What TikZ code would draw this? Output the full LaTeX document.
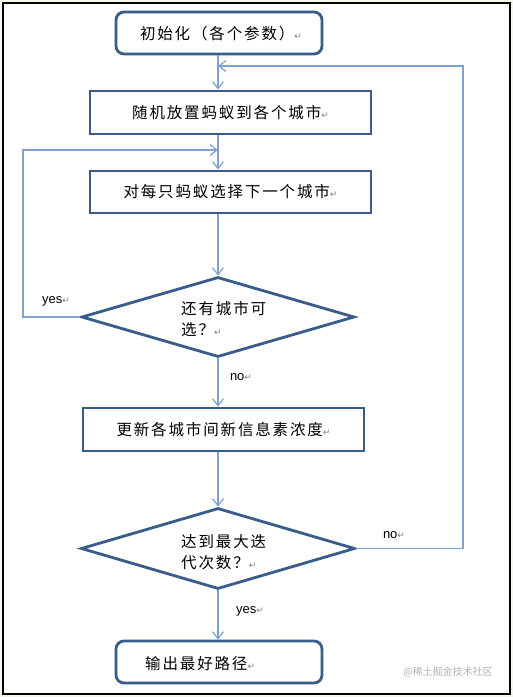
\documentclass[tikz,border=0pt]{standalone}
\usepackage{fontspec}
\setmainfont{Noto Sans CJK SC}
\newfontfamily\cjk[LetterSpace=12]{Noto Sans CJK SC}
\newfontfamily\latn{Liberation Sans}
\newfontfamily\symf{DejaVu Sans}
\usetikzlibrary{arrows.meta,shapes.geometric}
\definecolor{boxblue}{HTML}{385D8A}
\definecolor{linkblue}{HTML}{7EA3D0}
\definecolor{bgc}{HTML}{F6F6EA}
\newcommand{\ret}{{\color{gray}\symf\fontsize{9}{9}\selectfont ↵}}
\begin{document}
\begin{tikzpicture}[x=1pt,y=-1pt,
  stepbox/.style={draw=boxblue,line width=2.8pt,fill=white,inner sep=0pt,
    font=\cjk\fontsize{15.5}{18}\selectfont},
  decis/.style={draw=boxblue,line width=2.8pt,fill=white,diamond,aspect=1,inner sep=0pt},
  conn/.style={draw=linkblue,line width=1.4pt},
  arr/.style={conn,-{Straight Barb[length=7pt,width=11pt,line width=1.2pt]}},
  dtext/.style={anchor=west,align=left,inner sep=0pt,font=\cjk\fontsize{15.5}{21.5}\selectfont},
  lab/.style={font=\latn\fontsize{13}{13}\selectfont,inner sep=0pt}]
\useasboundingbox (0,0) rectangle (513,697);
\fill[bgc] (0,0) rectangle (513,697);
\draw[fill=white,line width=1.2pt] (3,3) rectangle (510,694);
% nodes
\node[stepbox,rounded corners=8pt,minimum width=206pt,minimum height=42pt] (init) at (219,33) {};
\node[font=\cjk\fontsize{15.5}{18}\selectfont,inner sep=0pt] (initt) at (221,34) {初始化（各个参数）\ret};
\node[stepbox,minimum width=281pt,minimum height=43pt] (place) at (230.5,112.5) {随机放置蚂蚁到各个城市\ret};
\node[stepbox,minimum width=281pt,minimum height=42pt] (select) at (230.5,192) {对每只蚂蚁选择下一个城市\ret};
\node[decis,minimum width=273pt,minimum height=80pt] (d1) at (218,317) {};
\node[dtext] (d1t) at (181,319) {还有城市可\\选？\ret};
\node[stepbox,minimum width=281pt,minimum height=43pt] (update) at (223.5,429.5) {更新各城市间新信息素浓度\ret};
\node[decis,minimum width=274pt,minimum height=81pt] (d2) at (218,548.5) {};
\node[dtext] (d2t) at (181,552) {达到最大迭\\代次数？\ret};
\node[stepbox,rounded corners=8pt,minimum width=206pt,minimum height=42pt] (out) at (219,662) {};
\node[font=\cjk\fontsize{15.5}{18}\selectfont,inner sep=0pt,anchor=west] (outt) at (145,664) {输出最好路径\ret};
% helper coordinates
\coordinate (col) at (218,0);
\coordinate (yl) at (23,150);
\coordinate (nr) at (463,66);
% connectors
\draw[arr] (init.south -| col) -- (place.north -| col);
\draw[arr] (place.south -| col) -- (select.north -| col);
\draw[arr] (select.south -| col) -- (d1.north);
\draw[arr] (d1.south) -- (d1.south |- update.north);
\draw[arr] (update.south -| col) -- (d2.north);
\draw[arr] (d2.south) -- (d2.south |- out.north);
\draw[arr] (d1.west) -| (yl) -- (yl -| col);
\draw[arr] (d2.east) -| (nr) -- (nr -| col);
% labels
\node[lab] (ly1) at (56,301) {yes\ret};
\node[lab] (ln1) at (241,377) {no\ret};
\node[lab] (ln2) at (394,535) {no\ret};
\node[lab] (ly2) at (250,611) {yes\ret};
% watermark
\node[font=\fontsize{10}{10}\selectfont,text=gray!60,inner sep=0pt] (wm) at (448,672) {@稀土掘金技术社区};
\end{tikzpicture}
\end{document}
